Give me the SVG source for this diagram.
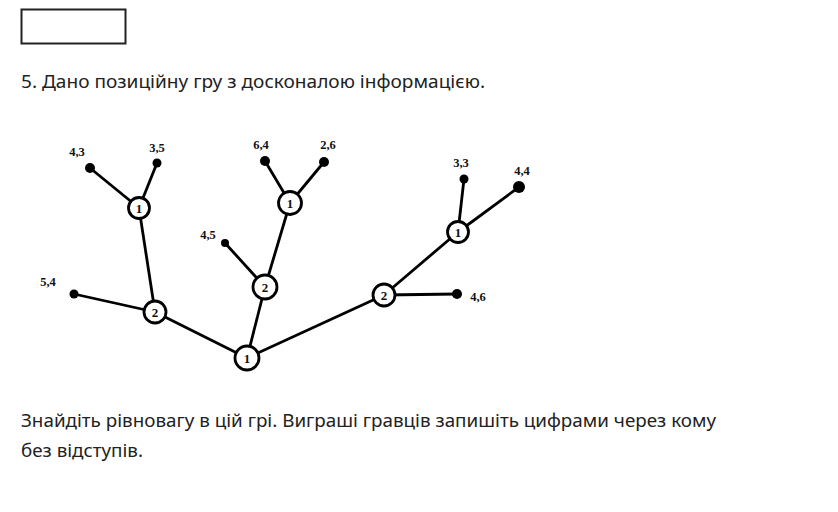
<svg xmlns="http://www.w3.org/2000/svg" width="838" height="512" viewBox="0 0 838 512">
<style>
.t{font-family:"Noto Sans","Open Sans","DejaVu Sans",sans-serif;font-size:17.5px;fill:#222}
.e{stroke:#000;stroke-width:2.8;fill:none}
.n circle{fill:#fff;stroke:#000;stroke-width:2.8}
.n text,.lbl{font-family:"Liberation Serif","Times New Roman",serif;font-weight:bold;fill:#111}
.n text{font-size:13px;text-anchor:middle}
.lbl{font-size:12.5px;text-anchor:middle}
.leaf{fill:#000}
</style>
<rect x="21.5" y="9.5" width="104" height="34" fill="#fff" stroke="#222" stroke-width="2"/>
<text class="t" x="21" y="88" textLength="464" lengthAdjust="spacingAndGlyphs">5. Дано позиційну гру з досконалою інформацією.</text>
<g id="edges">
<line class="e" x1="247" y1="358" x2="155" y2="312"/>
<line class="e" x1="247" y1="358" x2="265" y2="287"/>
<line class="e" x1="247" y1="358" x2="384" y2="295"/>
<line class="e" x1="155" y1="312" x2="74" y2="294"/>
<line class="e" x1="155" y1="312" x2="139" y2="208"/>
<line class="e" x1="139" y1="208" x2="90" y2="168"/>
<line class="e" x1="139" y1="208" x2="157" y2="163"/>
<line class="e" x1="265" y1="287" x2="225" y2="243"/>
<line class="e" x1="265" y1="287" x2="290" y2="203"/>
<line class="e" x1="290" y1="203" x2="265" y2="161"/>
<line class="e" x1="290" y1="203" x2="324" y2="162"/>
<line class="e" x1="384" y1="295" x2="457" y2="294"/>
<line class="e" x1="384" y1="295" x2="458" y2="232"/>
<line class="e" x1="458" y1="232" x2="464" y2="179"/>
<line class="e" x1="458" y1="232" x2="519" y2="187"/>
</g>
<g id="root" class="n"><circle cx="247" cy="358" r="12"/><text x="247" y="363">1</text></g>
<g id="p2left" class="n"><circle cx="155" cy="312" r="11"/><text x="155" y="317">2</text></g>
<g id="p1left" class="n"><circle cx="139" cy="208" r="10.5"/><text x="139" y="213">1</text></g>
<g id="p2mid" class="n"><circle cx="265" cy="287" r="12"/><text x="265" y="292">2</text></g>
<g id="p1mid" class="n"><circle cx="290" cy="203" r="11.5"/><text x="290" y="208">1</text></g>
<g id="p2right" class="n"><circle cx="384" cy="295" r="11"/><text x="384" y="300">2</text></g>
<g id="p1right" class="n"><circle cx="458" cy="232" r="10.5"/><text x="458" y="237">1</text></g>
<g id="leaf43"><circle class="leaf" cx="90" cy="168" r="5"/><text class="lbl" x="77" y="156">4,3</text></g>
<g id="leaf35"><circle class="leaf" cx="157" cy="163" r="4.5"/><text class="lbl" x="157" y="152">3,5</text></g>
<g id="leaf54"><circle class="leaf" cx="74" cy="294" r="4.5"/><text class="lbl" x="48" y="286">5,4</text></g>
<g id="leaf45a"><circle class="leaf" cx="225" cy="243" r="4"/><text class="lbl" x="208" y="239">4,5</text></g>
<g id="leaf64"><circle class="leaf" cx="265" cy="161" r="5"/><text class="lbl" x="261" y="149">6,4</text></g>
<g id="leaf26"><circle class="leaf" cx="324" cy="162" r="5"/><text class="lbl" x="328" y="149">2,6</text></g>
<g id="leaf33"><circle class="leaf" cx="464" cy="179" r="4.5"/><text class="lbl" x="461" y="167">3,3</text></g>
<g id="leaf44"><circle class="leaf" cx="519" cy="187" r="6"/><text class="lbl" x="522" y="175">4,4</text></g>
<g id="leaf46"><circle class="leaf" cx="457" cy="294" r="5"/><text class="lbl" x="478" y="301">4,6</text></g>
<text class="t" x="21" y="427" textLength="695" lengthAdjust="spacingAndGlyphs">Знайдіть рівновагу в цій грі. Виграші гравців запишіть цифрами через кому</text>
<text class="t" x="21" y="457" textLength="122" lengthAdjust="spacingAndGlyphs">без відступів.</text>
</svg>
